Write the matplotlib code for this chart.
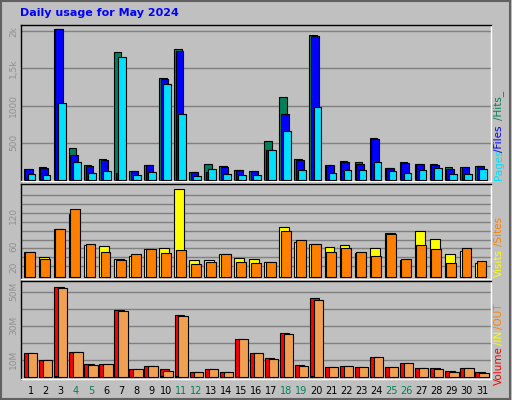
import matplotlib
matplotlib.use("Agg")
import matplotlib.pyplot as plt
import numpy as np

days = list(range(1, 32))
weekend = [4, 5, 11, 12, 18, 19, 25, 26]
hits = [147,179,2036,433,201,281,1728,125,201,1366,1768,112,214,192,134,125,522,1112,281,1946,201,259,246,567,161,246,214,214,179,179,192]
files = [147,161,2027,339,192,272,100,125,201,1353,1741,112,112,179,134,125,406,884,272,1933,201,237,214,554,161,228,214,201,147,179,192]
pages = [85,67,1031,241,94,121,1661,67,107,1286,884,54,147,80,67,67,402,656,134,978,94,134,134,241,121,94,134,161,85,85,147]
visits = [50,39,94,123,63,61,36,41,55,57,171,34,34,45,37,35,30,97,69,65,59,63,47,57,86,34,90,74,45,51,28]
sites = [50,36,94,132,65,50,34,45,55,47,53,26,30,45,30,28,30,90,72,65,50,57,49,41,84,35,63,55,28,57,32]
vol_in = [0,0,0.4,0,0,0,0,0,0,0.3,0.4,0,0,0,0,0,0,0,0,0.4,0,0,0,0,0,0,0,0,0,0,0]
volume = [14.1,10,52.9,14.7,7.6,7.6,39.4,4.7,6.5,4.7,36.5,2.9,4.7,2.9,22.4,14.1,11.2,25.9,7.1,46.5,5.9,6.5,5.9,11.8,5.9,8.2,5.3,5.3,3.5,5.3,2.9]
vol_out = [14.1,10,52.4,14.7,7.1,7.6,38.8,4.7,6.5,3.5,35.9,2.9,4.7,2.9,22.4,14.1,10.6,25.3,6.5,45.3,5.9,6.5,5.9,11.8,5.9,8.2,5.3,4.7,2.9,5.3,2.4]

BG = '#C0C0C0'
fig = plt.figure(figsize=(5.12, 4.0), dpi=100, facecolor=BG)
W, H = 512, 400
def ax_at(l, t, r, b):
    return fig.add_axes([l / W, 1 - b / H, (r - l) / W, (b - t) / H])

x = np.array(days, dtype=float)
ek = dict(edgecolor='black', linewidth=0.8)

def style(ax, ylim, ticks, labels, grid):
    ax.set_facecolor(BG)
    ax.set_xlim(0.35, 31.6)
    ax.set_ylim(*ylim)
    for g in grid:
        ax.axhline(g, color='#808080', lw=1, zorder=0)
    ax.set_yticks(ticks)
    ax.set_yticklabels(labels, rotation=90, va='center', color='#909090', fontsize=6.5)
    ax.tick_params(axis='y', length=0, pad=2)
    ax.set_xticks([])
    for s in ax.spines.values():
        s.set_color('black'); s.set_linewidth(1)
    ax.spines['right'].set_color('white'); ax.spines['bottom'].set_color('white')

ax1 = ax_at(21, 25, 491, 181)
ax1.bar(x - 0.47, hits, width=0.5, align='edge', color='#00805A', **ek, zorder=2)
ax1.bar(x - 0.36, files, width=0.5, align='edge', color='#0000FF', **ek, zorder=3)
ax1.bar(x - 0.2, pages, width=0.51, align='edge', color='#00E0FF', **ek, zorder=4)
style(ax1, (-13, 2085), [500, 1000, 1500, 2000], ['500', '1000', '1,5k', '2k'], [500, 1000, 1500, 2000])

ax2 = ax_at(21, 184, 491, 279)
ax2.bar(x - 0.47, visits, width=0.66, align='edge', color='#FFFF00', **ek, zorder=2)
ax2.bar(x - 0.36, sites, width=0.66, align='edge', color='#FF8000', **ek, zorder=3)
g2 = [(293 - v) / 1.55 for v in [260, 233, 206, 180, 153, 126, 100, 73, 46]]
style(ax2, (-3, 181), [20, 60, 120], ['20', '60', '120'], g2)

ax3 = ax_at(21, 281, 491, 379)
ax3.bar(x - 0.44, volume, width=0.62, align='edge', color='#FF0000', **ek, zorder=2)
ax3.bar(x - 0.44, vol_in, width=0.3, align='edge', color='#FFFF00', **ek, zorder=3)
ax3.bar(x - 0.18, vol_out, width=0.62, align='edge', color='#F0A050', **ek, zorder=4)
style(ax3, (-1.4, 56.3), [10, 30, 50], ['10M', '30M', '50M'], [10, 20, 30, 40, 50])

for d in days:
    ax3.text(d, -0.07, str(d), transform=ax3.get_xaxis_transform(), ha='center', va='top',
             fontsize=7, color='#00805A' if d in weekend else 'black')

fig.text(20 / W, 1 - 13 / H, 'Daily usage for May 2024', color='#0000FF', fontsize=8,
         fontweight='bold', va='center', ha='left')

def vlab(parts, y0):
    y = y0
    for txt, col, ln in parts:
        fig.text(499 / W, 1 - y / H, txt, rotation=90, color=col, fontsize=7.5,
                 ha='center', va='bottom')
        y -= ln
vlab([('Pages', '#00E0FF', 28), ('/Files', '#0000FF', 32), ('/Hits_', '#00805A', 32)], 180)
vlab([('Visits', '#FFFF00', 31), ('/Sites', '#FF8000', 30)], 277)
vlab([('Volume', '#FF0000', 40), ('/IN', '#FFFF00', 16), ('/OUT', '#FF8000', 30)], 385)

fig.add_artist(plt.Rectangle((0.002, 0.003), 0.995, 0.994, transform=fig.transFigure,
                             fill=False, edgecolor='#606060', lw=1.5))
fig.savefig('out.png', dpi=100, facecolor=BG)
